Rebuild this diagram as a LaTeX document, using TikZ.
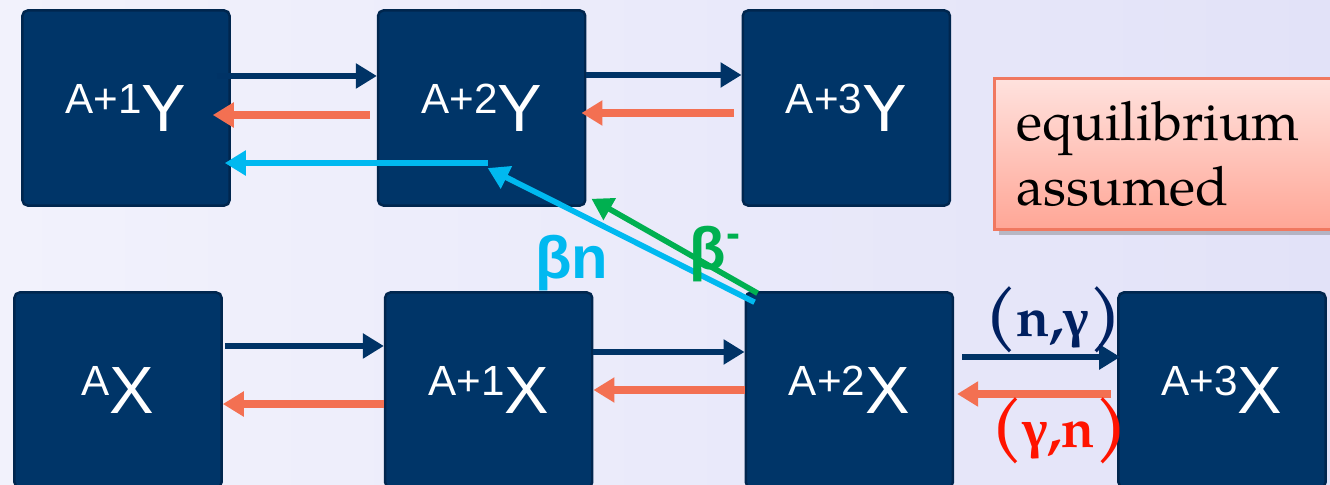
\documentclass[tikz,border=0pt]{standalone}
\usepackage{fontspec}
\usepackage{tikz}
\usetikzlibrary{arrows.meta,positioning,shadows}
\newfontfamily\boxfont{Liberation Sans}
\newfontfamily\palfont{TeX Gyre Pagella}
\newfontfamily\grkfont{Liberation Serif}
\definecolor{boxnavy}{RGB}{0,53,104}
\definecolor{boxedge}{RGB}{0,38,78}
\definecolor{capnavy}{RGB}{0,51,102}
\definecolor{capsalmon}{RGB}{243,112,82}
\definecolor{betablue}{RGB}{0,185,240}
\definecolor{betagreen}{RGB}{0,176,80}
\definecolor{ngnavy}{RGB}{0,32,96}
\definecolor{gnred}{RGB}{255,20,0}
\definecolor{bgleft}{RGB}{242,242,252}
\definecolor{bgright}{RGB}{226,226,248}
\definecolor{notetop}{RGB}{255,226,222}
\definecolor{notebottom}{RGB}{255,166,150}
\definecolor{noteedge}{RGB}{240,120,96}

\newcommand{\nucl}[2]{\raisebox{5pt}{\fontsize{12}{12}\selectfont #1}{\fontsize{19}{19}\selectfont #2}}
\newcommand{\bigpar}[1]{{\fontsize{19}{19}\selectfont #1}}

\begin{document}
\begin{tikzpicture}[x=0.01cm, y=-0.01cm,
  nucbox/.style={draw=boxedge, line width=0.7pt, fill=boxnavy, rounded corners=1.5pt, minimum width=2.07cm, minimum height=1.95cm, inner sep=0pt, text=white, font=\boxfont},
  capture/.style={-{Triangle[length=0.21cm,width=0.24cm]}, line width=1.9pt, capnavy},
  photo/.style={-{Triangle[length=0.21cm,width=0.24cm]}, line width=2.2pt, capsalmon},
  decay/.style={-{Triangle[length=0.21cm,width=0.24cm]}, line width=1.6pt},
  notebox/.style={draw=noteedge, line width=0.8pt, top color=notetop, bottom color=notebottom, text width=3.1cm, minimum height=1.51cm, inner xsep=0.22cm, align=left, font=\palfont\fontsize{15.4}{18.5}\selectfont, drop shadow={shadow xshift=0.05cm, shadow yshift=-0.06cm, opacity=0.3, fill=black!70}}]
  \shade[left color=bgleft, right color=bgright] (0,0) rectangle (1330,485);
  \useasboundingbox (0,0) rectangle (1330,485);

  % upper row
  \node[nucbox] (a1y) at (126,108) {\nucl{A+1}{Y}};
  \node[nucbox, right=1.46cm of a1y] (a2y) {\nucl{A+2}{Y}};
  \node[nucbox, right=1.55cm of a2y] (a3y) {\nucl{A+3}{Y}};

  % lower row
  \node[nucbox] (ax) at (118,390) {\nucl{A}{X}};
  \node[nucbox, right=1.61cm of ax] (a1x) {\nucl{A+1}{X}};
  \node[nucbox, right=1.51cm of a1x] (a2x) {\nucl{A+2}{X}};
  \node[nucbox, right=1.63cm of a2x] (a3x) {\nucl{A+3}{X}};

  \node[notebox, anchor=north west] (note) at (993,77) {equilibrium\\assumed};

  % captures and photodisintegrations
  \draw[capture] ([xshift=-0.14cm,yshift=0.32cm]a1y.east) -- ([yshift=0.32cm]a2y.west);
  \draw[photo] ([xshift=-0.07cm,yshift=-0.07cm]a2y.west) -- ([xshift=-0.18cm,yshift=-0.07cm]a1y.east);
  \draw[capture] ([yshift=0.33cm]a2y.east) -- ([yshift=0.33cm]a3y.west);
  \draw[photo] ([xshift=-0.08cm,yshift=-0.05cm]a3y.west) -- ([xshift=-0.05cm,yshift=-0.05cm]a2y.east);
  \draw[capture] ([xshift=0.02cm,yshift=0.44cm]ax.east) -- ([yshift=0.44cm]a1x.west);
  \draw[photo] ([yshift=-0.14cm]a1x.west) -- ([yshift=-0.14cm]ax.east);
  \draw[capture] ([yshift=0.38cm]a1x.east) -- ([yshift=0.38cm]a2x.west);
  \draw[photo] (a2x.west) -- (a1x.east);
  \draw[capture] ([xshift=0.08cm,yshift=0.33cm]a2x.east) -- ([xshift=0.03cm,yshift=0.33cm]a3x.west);
  \draw[photo] ([xshift=-0.06cm,yshift=-0.04cm]a3x.west) -- ([xshift=0.03cm,yshift=-0.04cm]a2x.east);

  % beta decays
  \draw[decay, betablue] ([xshift=0.06cm,yshift=-0.55cm]a2y.center) -- ([xshift=-0.06cm,yshift=-0.55cm]a1y.east);
  \draw[decay, betablue] ([xshift=0.10cm,yshift=-0.11cm]a2x.north west) -- ([xshift=0.06cm,yshift=-0.60cm]a2y.center);
  \draw[decay, betagreen] ([xshift=0.13cm,yshift=-0.02cm]a2x.north west) -- ([xshift=0.05cm,yshift=0.08cm]a2y.south east);

  % labels
  \node[anchor=base, text=betablue, font=\boxfont\bfseries\fontsize{17}{17}\selectfont] (bn) at (572,278) {βn};
  \node[anchor=base, text=betagreen, font=\boxfont\bfseries\fontsize{17}{17}\selectfont] (bm) at (716,270) {β\textsuperscript{-}};
  \node[anchor=base, text=ngnavy, font=\palfont\bfseries\fontsize{15.5}{15.5}\selectfont] (ng) at (1053,337) {\bigpar{(}n,{\grkfont γ}\bigpar{)}};
  \node[anchor=base, text=gnred, font=\palfont\bfseries\fontsize{15.5}{15.5}\selectfont] (gn) at (1059,447) {\bigpar{(}{\grkfont γ},n\bigpar{)}};
\end{tikzpicture}
\end{document}
